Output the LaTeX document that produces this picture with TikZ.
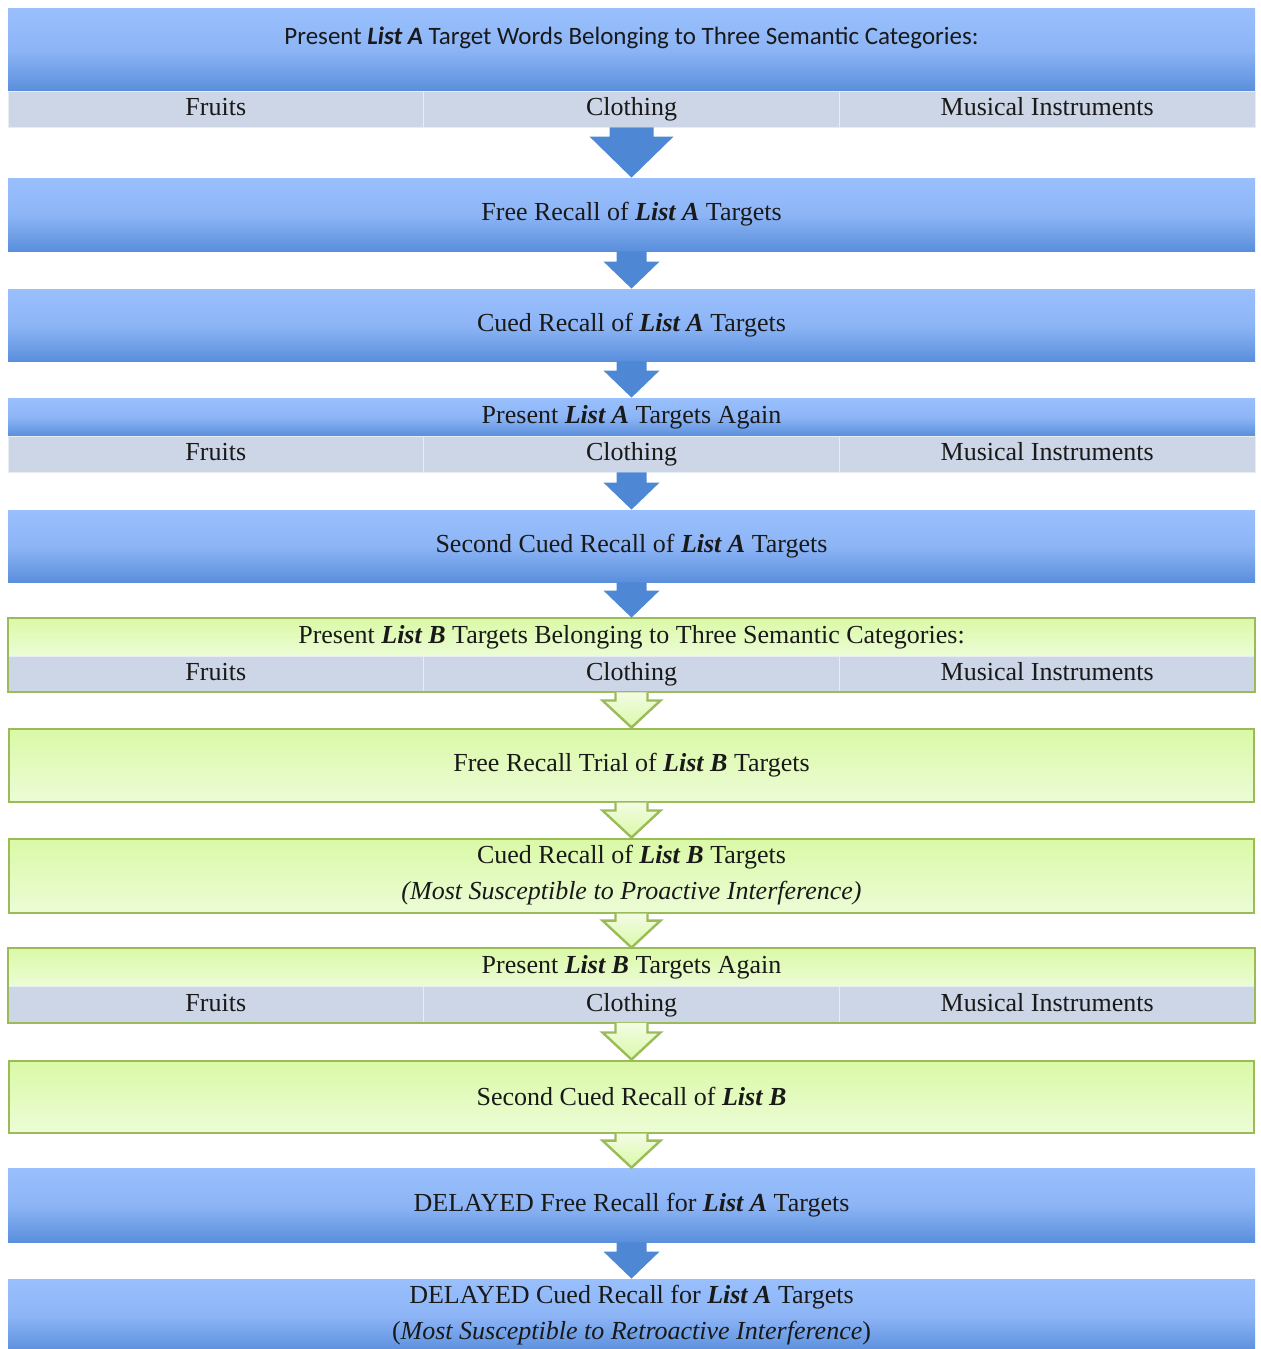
\documentclass[tikz,border=0pt]{standalone}
\usepackage{fontspec}
\setmainfont{Liberation Serif}
\newfontfamily\headfont{Carlito}
\usepackage{xcolor}
\usepackage{tikz}
\usetikzlibrary{shapes, arrows.meta, positioning, calc}

\definecolor{BlueTop}{HTML}{99BFFC}
\definecolor{BlueMid}{HTML}{8DB5F6}
\definecolor{BlueBot}{HTML}{5A8FDC}
\definecolor{ArrowBlue}{HTML}{4E88D5}
\definecolor{CatFill}{HTML}{CDD6E6}
\definecolor{GreenTop}{HTML}{DAF9A6}
\definecolor{GreenBot}{HTML}{ECFCD6}
\definecolor{GreenPale}{HTML}{F2FCE4}
\definecolor{GreenLine}{HTML}{9BBB59}

\begin{document}
\begin{tikzpicture}
  [
    x=0.5pt, y=-0.5pt,
    Blue/.style={rectangle, top color=BlueTop, bottom color=BlueBot, middle color=BlueMid, minimum width=623.5pt, inner sep=0pt, align=center, text=black!90, font=\fontsize{13}{18}\selectfont},
    Green/.style={rectangle, top color=GreenTop, bottom color=GreenBot, minimum width=623.5pt, inner sep=0pt, align=center, text=black!90, font=\fontsize{13}{18}\selectfont},
    GreenBox/.style={Green, draw=GreenLine, line width=1pt, minimum width=622.5pt},
    Cat/.style={rectangle, fill=CatFill, draw=white!55!CatFill, minimum width=207.83pt, minimum height=18pt, inner sep=0pt, text height=9pt, text depth=2.5pt, text=black!90, font=\fontsize{13}{18}\selectfont},
    Block/.style n args={3}{to path={let \p1=(\tikztostart), \p2=(\tikztotarget) in (\x1-#1,\y1) -- (\x1-#1,\y2+#3) -- (\x1-#2,\y2+#3) -- (\x1,\y2) -- (\x1+#2,\y2+#3) -- (\x1+#1,\y2+#3) -- (\x1+#1,\y1)}},
    BigArrow/.style={Block={11pt}{21pt}{20.5pt}, fill=ArrowBlue},
    BlueArrow/.style={Block={7.5pt}{14pt}{13.5pt}, fill=ArrowBlue},
    GreenArrow/.style={Block={8pt}{14.5pt}{13.5pt}, draw=GreenLine, line width=1.2pt, line join=miter, top color=GreenPale, bottom color=GreenTop}
  ]
  \clip (0,0) rectangle (1260,1349);

  % Nodes
  \node[Blue, minimum height=41.5pt, font=\headfont\fontsize{12.5}{15}\selectfont, text height=9pt, text depth=14.5pt] (h1) at (631.5, 49.5) {Present \textbf{\textit{List A}} Target Words Belonging to Three Semantic Categories:};
  \node[Cat] (c1a) at (215.8, 109) {Fruits};
  \node[Cat] (c1b) at (631.5, 109) {Clothing};
  \node[Cat] (c1c) at (1047.2, 109) {Musical Instruments};

  \node[Blue, minimum height=36.5pt] (b2) at (631.5, 214.5) {Free Recall of \textbf{\textit{List A}} Targets};

  \node[Blue, minimum height=36pt] (b3) at (631.5, 325) {Cued Recall of \textbf{\textit{List A}} Targets};

  \node[Blue, minimum height=19pt] (b4) at (631.5, 417) {Present \textbf{\textit{List A}} Targets Again};
  \node[Cat] (c4a) at (215.8, 454) {Fruits};
  \node[Cat] (c4b) at (631.5, 454) {Clothing};
  \node[Cat] (c4c) at (1047.2, 454) {Musical Instruments};

  \node[Blue, minimum height=36pt] (b5) at (631.5, 546) {Second Cued Recall of \textbf{\textit{List A}} Targets};

  \node[Green, minimum height=19pt] (g6) at (631.5, 637) {Present \textbf{\textit{List B}} Targets Belonging to Three Semantic Categories:};
  \node[Cat] (c6a) at (215.8, 674) {Fruits};
  \node[Cat] (c6b) at (631.5, 674) {Clothing};
  \node[Cat] (c6c) at (1047.2, 674) {Musical Instruments};
  \draw[GreenLine, line width=1pt] (g6.north west) rectangle (c6c.south east);

  \node[GreenBox, minimum height=36.5pt] (b7) at (631.5, 765) {Free Recall Trial of \textbf{\textit{List B}} Targets};

  \node[GreenBox, minimum height=37pt] (b8) at (631.5, 875.5) {Cued Recall of \textbf{\textit{List B}} Targets\\ \textit{(Most Susceptible to Proactive Interference)}};

  \node[Green, minimum height=19pt] (g9) at (631.5, 967) {Present \textbf{\textit{List B}} Targets Again};
  \node[Cat] (c9a) at (215.8, 1004.5) {Fruits};
  \node[Cat] (c9b) at (631.5, 1004.5) {Clothing};
  \node[Cat] (c9c) at (1047.2, 1004.5) {Musical Instruments};
  \draw[GreenLine, line width=1pt] (g9.north west) rectangle (c9c.south east);

  \node[GreenBox, minimum height=36pt] (b10) at (631.5, 1096.5) {Second Cued Recall of \textbf{\textit{List B}}};

  \node[Blue, minimum height=37pt] (b11) at (631.5, 1205) {DELAYED Free Recall for \textbf{\textit{List A}} Targets};

  \node[Blue, minimum height=36.5pt] (b12) at (631.5, 1315.5) {DELAYED Cued Recall for \textbf{\textit{List A}} Targets\\ (\textit{Most Susceptible to Retroactive Interference})};

  % Lines
  \path [BigArrow] (c1b.south) to (b2.north);
  \path [BlueArrow] (b2.south) to (b3.north);
  \path [BlueArrow] (b3.south) to (b4.north);
  \path [BlueArrow] (c4b.south) to (b5.north);
  \path [BlueArrow] (b5.south) to (g6.north);
  \path [GreenArrow] (c6b.south) to (b7.north);
  \path [GreenArrow] (b7.south) to (b8.north);
  \path [GreenArrow] (b8.south) to (g9.north);
  \path [GreenArrow] (c9b.south) to (b10.north);
  \path [GreenArrow] (b10.south) to (b11.north);
  \path [BlueArrow] (b11.south) to (b12.north);

\end{tikzpicture}
\end{document}
